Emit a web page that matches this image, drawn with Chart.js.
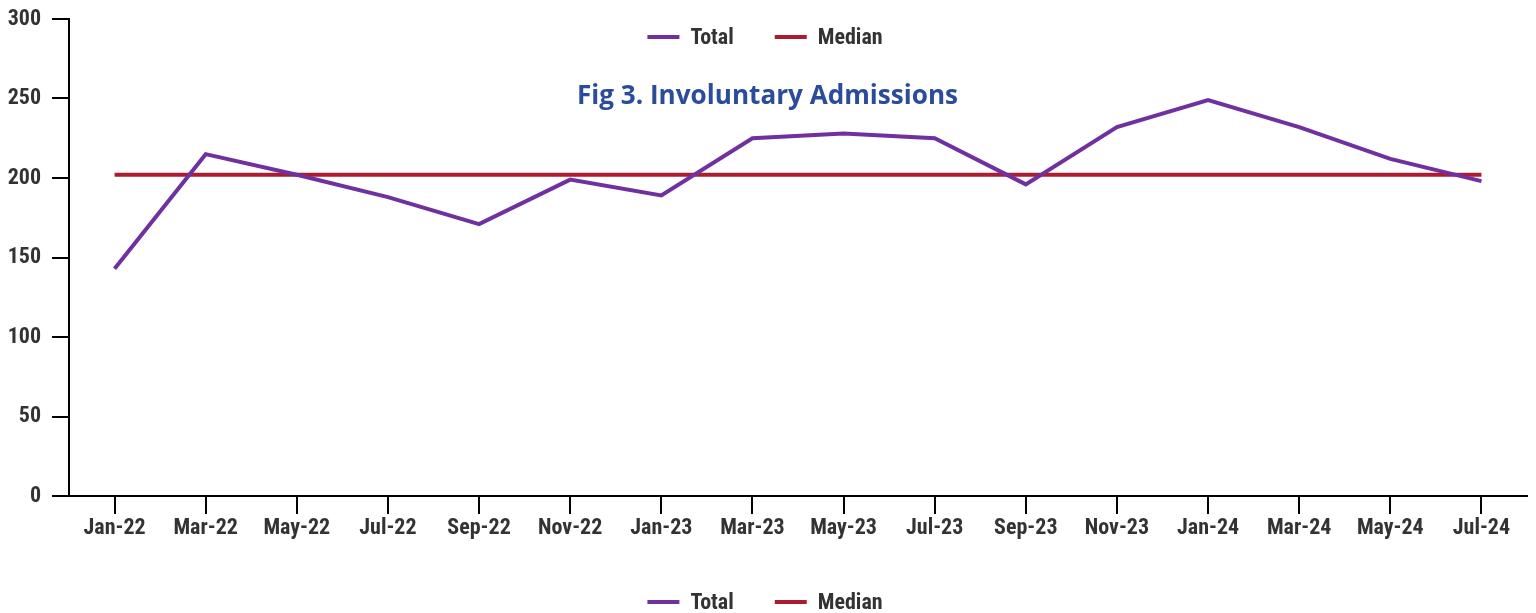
<!DOCTYPE html>
<html><head><meta charset="utf-8">
<script src="https://cdn.jsdelivr.net/npm/chart.js@4.4.1/dist/chart.umd.min.js"></script>
<style>html,body{margin:0;padding:0;background:#fff;overflow:hidden}#wrap{width:1536px;height:613px;position:relative}</style>
</head><body><div id="wrap"><canvas id="c" width="1536" height="613"></canvas></div>
<script>
const categories = ['Jan-22','Mar-22','May-22','Jul-22','Sep-22','Nov-22','Jan-23','Mar-23','May-23','Jul-23','Sep-23','Nov-23','Jan-24','Mar-24','May-24','Jul-24'];
const totalValues = [143, 215, 202, 188, 171, 199, 189, 225, 228, 225, 196, 232, 249, 232, 212, 198];
const medianValues = [202, 202, 202, 202, 202, 202, 202, 202, 202, 202, 202, 202, 202, 202, 202, 202];
const yTickValues = [0, 50, 100, 150, 200, 250, 300];
const seriesNames = ['Total', 'Median'];
const seriesColors = ['#7030A0', '#AC1C30'];
const titleText = 'Fig 3. Involuntary Admissions';

const condensed = "'Roboto Condensed','Liberation Sans Narrow','Arial Narrow','DejaVu Sans Condensed',sans-serif";
const textColor = '#333333';

const overlayPlugin = {
  id: 'overlay',
  afterDraw(chart) {
    const ctx = chart.ctx;
    ctx.save();
    // title
    let fs = 26;
    ctx.font = "bold " + fs + "px 'Open Sans', Lato, sans-serif";
    const w = ctx.measureText(titleText).width;
    fs = fs * 381 / w;
    ctx.font = "bold " + fs.toFixed(2) + "px 'Open Sans', Lato, sans-serif";
    ctx.fillStyle = '#2B4B9B';
    ctx.textAlign = 'center';
    ctx.textBaseline = 'middle';
    ctx.fillText(titleText, 767.5, 97);
    // legends (top and bottom)
    ctx.font = "bold 22px " + condensed;
    const lineLen = 32, gapText = 11, gapItem = 41;
    const ds = chart.data.datasets;
    const widths = ds.map(d => ctx.measureText(d.label).width);
    let total = 0;
    ds.forEach((d, i) => { total += lineLen + gapText + widths[i] + (i < ds.length - 1 ? gapItem : 0); });
    [38, 603].forEach(cy => {
      let x = 765 - total / 2;
      ds.forEach((d, i) => {
        ctx.strokeStyle = d.borderColor;
        ctx.lineWidth = 4;
        ctx.beginPath();
        ctx.moveTo(x, cy - 1); ctx.lineTo(x + lineLen, cy - 1);
        ctx.stroke();
        x += lineLen + gapText;
        ctx.fillStyle = textColor;
        ctx.textAlign = 'left';
        ctx.textBaseline = 'middle';
        ctx.fillText(d.label, x, cy);
        x += widths[i] + gapItem;
      });
    });
    ctx.restore();
  }
};

new Chart(document.getElementById('c'), {
  type: 'line',
  data: {
    labels: categories,
    datasets: [
      { label: seriesNames[0], data: totalValues, borderColor: seriesColors[0], backgroundColor: seriesColors[0], borderWidth: 4, pointRadius: 0, tension: 0, fill: false },
      { label: seriesNames[1], data: medianValues, borderColor: seriesColors[1], backgroundColor: seriesColors[1], borderWidth: 4, pointRadius: 0, tension: 0, fill: false }
    ]
  },
  options: {
    responsive: false,
    devicePixelRatio: 1,
    animation: false,
    layout: { padding: { left: 0, right: 9, top: 19, bottom: 0 } },
    plugins: { legend: { display: false }, title: { display: false }, tooltip: { enabled: false } },
    scales: {
      x: {
        type: 'category',
        offset: true,
        ticks: { color: textColor, font: { family: condensed, size: 22, weight: 'bold' }, padding: 1, maxRotation: 0, autoSkip: false },
        grid: { display: true, drawOnChartArea: false, drawTicks: true, tickLength: 18, color: '#000', lineWidth: 2 },
        border: { display: true, color: '#000', width: 2 },
        afterFit(s) { s.height = 117; s.paddingLeft = 0; s.paddingRight = 0; }
      },
      y: {
        min: 0, max: 300,
        afterBuildTicks(s) { s.ticks = yTickValues.map(v => ({ value: v })); },
        ticks: { color: textColor, font: { family: condensed, size: 22, weight: 'bold' }, padding: 11 },
        grid: { display: true, drawOnChartArea: false, drawTicks: true, tickLength: 17, color: '#000', lineWidth: 2 },
        border: { display: true, color: '#000', width: 2 },
        afterFit(s) { s.width = 69; s.paddingTop = 0; s.paddingBottom = 0; }
      }
    }
  },
  plugins: [overlayPlugin]
});
</script>
</body></html>
